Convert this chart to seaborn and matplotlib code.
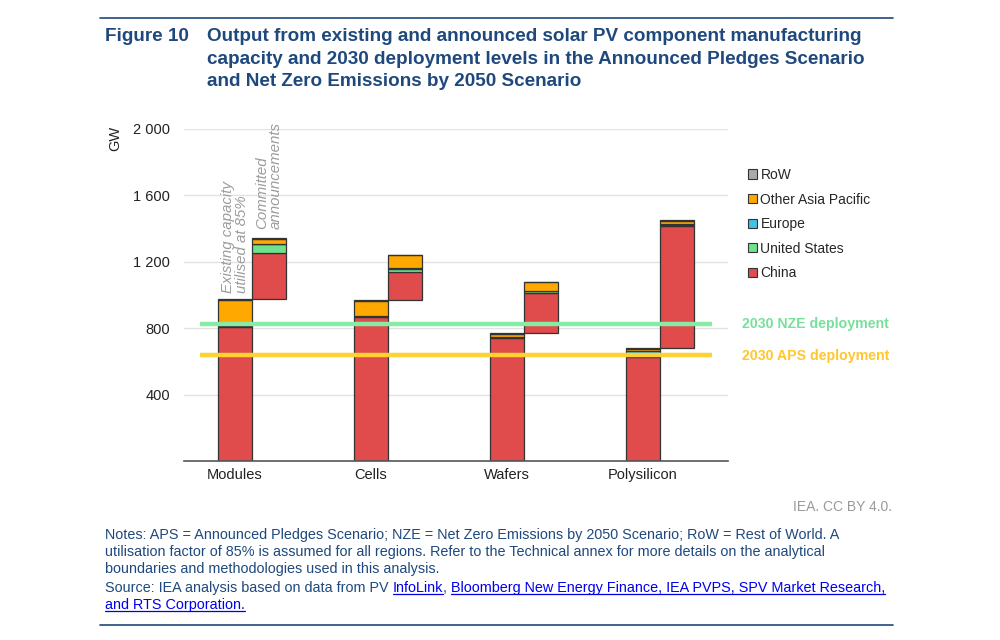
import numpy as np
import matplotlib
matplotlib.use("Agg")
import matplotlib.pyplot as plt
from matplotlib.patches import Patch
from matplotlib.lines import Line2D
import seaborn as sns

# ---------------- data ----------------
stages = ["Modules", "Cells", "Wafers", "Polysilicon"]
regions = ["China", "United States", "Europe", "Other Asia Pacific", "RoW"]

china_exist = [805, 870, 742, 628]
us_exist = [8, 3, 2, 5]
europe_exist = [4, 2, 2, 30]
oap_exist = [155, 90, 20, 14]
row_exist = [6, 4, 4, 6]

china_comm = [275, 170, 243, 735]
us_comm = [52, 20, 12, 5]
europe_comm = [5, 3, 2, 2]
oap_comm = [30, 78, 50, 22]
row_comm = [6, 3, 3, 5]

nze_2030 = 825
aps_2030 = 638

y_ticks = [400, 800, 1200, 1600, 2000]
y_tick_labels = ["400", "800", "1 200", "1 600", "2 000"]

# ---------------- style ----------------
sns.set_theme(style="white")
plt.rcParams["font.family"] = ["Liberation Sans", "DejaVu Sans"]

colors = {
    "China": "#E04B4B",
    "United States": "#6EE38C",
    "Europe": "#45BEE8",
    "Other Asia Pacific": "#FFA800",
    "RoW": "#AAAAAA",
}
navy = "#1F497D"
edge = "#333333"

fig = plt.figure(figsize=(10, 6.4), dpi=100)
ax = fig.add_axes([0.184, 1 - 461 / 640, (728 - 184) / 1000, (461 - 129) / 640])

exist = [china_exist, us_exist, europe_exist, oap_exist, row_exist]
comm = [china_comm, us_comm, europe_comm, oap_comm, row_comm]

pos_exist = np.arange(len(stages), dtype=float)
pos_comm = pos_exist + 0.25
bar_w = 0.25

bottom = np.zeros(len(stages))
for reg, vals in zip(regions, exist):
    vals = np.array(vals, dtype=float)
    sns.barplot(x=pos_exist, y=vals, bottom=bottom.copy(), native_scale=True,
                orient="x", width=bar_w, color=colors[reg], saturation=1,
                edgecolor=edge, linewidth=0.9, errorbar=None, ax=ax, zorder=2)
    bottom += vals
exist_total = bottom.copy()

bottom = exist_total.copy()
for reg, vals in zip(regions, comm):
    vals = np.array(vals, dtype=float)
    sns.barplot(x=pos_comm, y=vals, bottom=bottom.copy(), native_scale=True,
                orient="x", width=bar_w, color=colors[reg], saturation=1,
                edgecolor=edge, linewidth=0.9, errorbar=None, ax=ax, zorder=2)
    bottom += vals

# deployment lines
ax.hlines(nze_2030, -0.257, 3.51, color="#86EBA4", lw=3.2, zorder=4)
ax.hlines(aps_2030, -0.257, 3.51, color="#FFD233", lw=3.2, zorder=4)
ax.text(4.27, nze_2030, "2030 NZE deployment", color="#78E09A", fontsize=10.2,
        fontweight="bold", ha="center", va="center", clip_on=False)
ax.text(4.27, aps_2030 - 8, "2030 APS deployment", color="#FFC62E", fontsize=10.2,
        fontweight="bold", ha="center", va="center", clip_on=False)

# axes styling
ax.set_xlim(-0.375, 3.625)
ax.set_ylim(0, 2000)
ax.set_yticks(y_ticks)
ax.set_yticklabels(y_tick_labels)
ax.set_xticks(pos_exist)
ax.set_xticklabels(stages)
ax.set_xlabel("")
ax.set_ylabel("")
ax.tick_params(axis="y", length=0, pad=10, labelsize=10.5, labelcolor="#222222")
ax.tick_params(axis="x", length=0, pad=5, labelsize=10.5, labelcolor="#222222")
ax.grid(axis="y", color="#E2E2E2", lw=1)
ax.set_axisbelow(True)
for s in ["top", "right", "left"]:
    ax.spines[s].set_visible(False)
ax.spines["bottom"].set_color("#555555")
ax.spines["bottom"].set_linewidth(1.2)

# annotations above Modules bars
ax.text(pos_exist[0], exist_total[0] + 35, "Existing capacity\nutilised at 85%",
        rotation=90, ha="center", va="bottom", multialignment="left",
        fontsize=10.8, style="italic", color="#9C9C9C", linespacing=1.0)
ax.text(pos_comm[0], 1395, "Committed\nannouncements",
        rotation=90, ha="center", va="bottom", multialignment="left",
        fontsize=10.8, style="italic", color="#9C9C9C", linespacing=1.0, clip_on=False)

fig.text(115 / 1000, 1 - 138 / 640, "GW", rotation=90, ha="center", va="center",
         fontsize=10.5, color="#222222")

# legend
handles = [Patch(facecolor=colors[r], edgecolor=edge, linewidth=0.8) for r in regions[::-1]]
fig.legend(handles, regions[::-1], loc="upper left", bbox_to_anchor=(0.748, 1 - 168 / 640),
           frameon=False, handlelength=0.65, handleheight=0.65, handletextpad=0.25,
           labelspacing=0.76, fontsize=10, borderaxespad=0, borderpad=0)

# title block
fig.add_artist(Line2D([0.100, 0.893], [1 - 18 / 640] * 2, color=navy, lw=1.2))
fig.add_artist(Line2D([0.100, 0.893], [1 - 625 / 640] * 2, color=navy, lw=1.2))
fig.text(0.105, 1 - 41 / 640, "Figure 10", fontsize=13.6, fontweight="bold",
         color=navy, va="baseline")
title_lines = ["Output from existing and announced solar PV component manufacturing",
               "capacity and 2030 deployment levels in the Announced Pledges Scenario",
               "and Net Zero Emissions by 2050 Scenario"]
for line, yb in zip(title_lines, [41, 63.5, 86]):
    fig.text(0.207, 1 - yb / 640, line, fontsize=13.6, fontweight="bold",
             color=navy, va="baseline")

fig.text(0.892, 1 - 507 / 640, "IEA. CC BY 4.0.", fontsize=10, color="#9A9A9A",
         ha="right", va="center")

fs = 10.4
notes = ["Notes: APS = Announced Pledges Scenario; NZE = Net Zero Emissions by 2050 Scenario; RoW = Rest of World. A",
         "utilisation factor of 85% is assumed for all regions. Refer to the Technical annex for more details on the analytical",
         "boundaries and methodologies used in this analysis."]
for line, yb in zip(notes, [539, 556, 573]):
    fig.text(0.105, 1 - yb / 640, line, fontsize=fs, color=navy, va="baseline")

# source line with underlined links
fig.canvas.draw()
renderer = fig.canvas.get_renderer()
link_col = "#0000EE"


def width_px(s):
    t = fig.text(0, 0, s, fontsize=fs)
    w = t.get_window_extent(renderer).width
    t.remove()
    return w


space_w = width_px("a a") - width_px("aa")


def put(x_px, y_px, s, col, underline=False):
    t = fig.text(x_px / 1000, 1 - y_px / 640, s, fontsize=fs, color=col, va="baseline")
    bb = t.get_window_extent(renderer)
    if underline:
        yl = (1 - y_px / 640) - 2.4 / 640
        fig.add_artist(Line2D([bb.x0 / 1000, bb.x1 / 1000], [yl, yl], color=col, lw=0.9))
    return bb.x1


yb1, yb2 = 592, 609
x = put(105, yb1, "Source: IEA analysis based on data from PV", navy)
x = put(x + space_w, yb1, "InfoLink", link_col, True)
x = put(x, yb1, ",", navy)
x = put(x + space_w, yb1, "Bloomberg New Energy Finance, IEA PVPS, SPV Market Research,", link_col, True)
put(105, yb2, "and RTS Corporation.", link_col, True)

fig.savefig("out.png", dpi=100)
